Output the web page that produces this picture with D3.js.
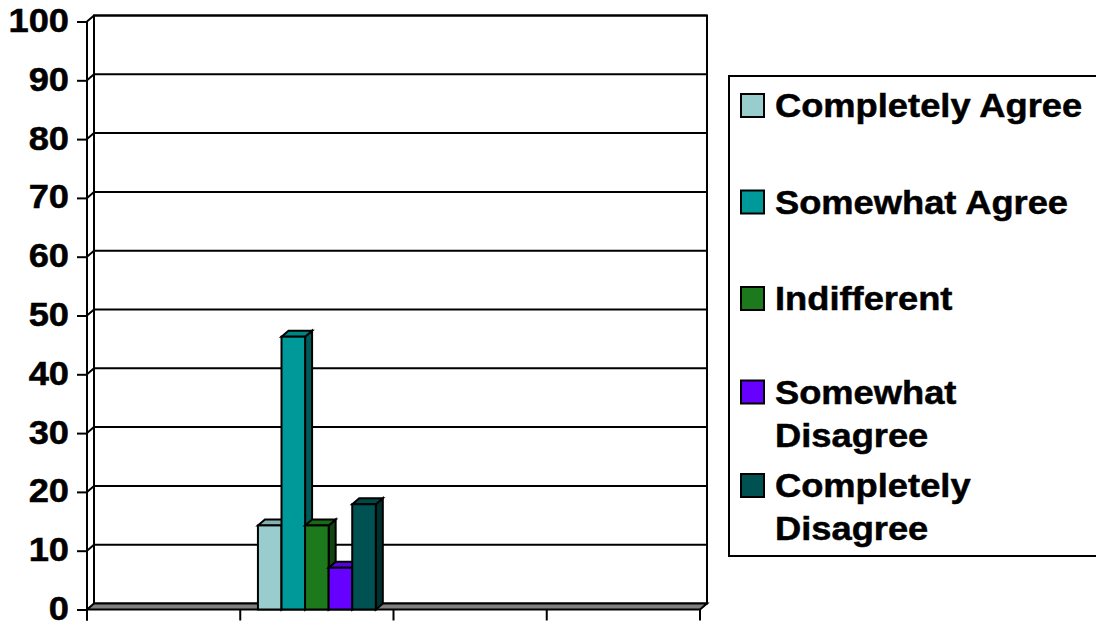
<!DOCTYPE html>
<html>
<head>
<meta charset="utf-8">
<script src="https://cdn.jsdelivr.net/npm/d3@7"></script>
<style>
  html, body { margin: 0; padding: 0; background: #fff; }
  svg { display: block; }
  text { font-family: "Liberation Sans", Arial, sans-serif; font-weight: bold; fill: #000; stroke: #000; stroke-width: 0.5px; }
</style>
</head>
<body>
<svg id="chart" width="1096" height="624"></svg>
<script>
// Survey responses (percent of respondents), one series per answer
const categories = ["", "", "", ""];
const seriesNames = ["Completely Agree", "Somewhat Agree", "Indifferent", "Somewhat Disagree", "Completely Disagree"];
const completelyAgree    = [null, 14.3, null, null];
const somewhatAgree      = [null, 46.4, null, null];
const indifferent        = [null, 14.3, null, null];
const somewhatDisagree   = [null, 7.1,  null, null];
const completelyDisagree = [null, 17.9, null, null];
const yTicks = [0, 10, 20, 30, 40, 50, 60, 70, 80, 90, 100];
const seriesColors = ["#99cccc", "#009999", "#1c7a1c", "#6600ff", "#005252"];
const legendLines = [["Completely Agree"], ["Somewhat Agree"], ["Indifferent"], ["Somewhat", "Disagree"], ["Completely", "Disagree"]];

const seriesValues = [completelyAgree, somewhatAgree, indifferent, somewhatDisagree, completelyDisagree];

const svg = d3.select("#chart");
const FONT = 33, STRETCH = 1.1;

// 3D depth offset of the floor / back wall
const DX = 7, DY = 6;
const plot = { left: 87, right: 700, top: 21.5, bottom: 609.5 };

const y = d3.scaleLinear().domain([0, 100]).range([plot.bottom, plot.top]);
const x0 = d3.scaleBand().domain(d3.range(categories.length)).range([plot.left, plot.right]);
const groupW = x0.bandwidth() / 1.3;           // 30% gap width
const x1 = d3.scaleBand().domain(d3.range(seriesNames.length)).range([0, groupW]);

const g = svg.append("g");

// back wall
g.append("rect")
  .attr("x", plot.left + DX).attr("y", plot.top - DY)
  .attr("width", plot.right - plot.left).attr("height", plot.bottom - plot.top)
  .attr("fill", "#fff").attr("stroke", "#000").attr("stroke-width", 2);

// gridlines: diagonal on side wall + horizontal along back wall
yTicks.forEach(t => {
  if (t === 0) return;
  const yf = y(t), yb = y(t) - DY;
  g.append("path")
    .attr("d", `M${plot.left},${yf}L${plot.left + DX},${yb}L${plot.right + DX},${yb}`)
    .attr("fill", "none").attr("stroke", "#000").attr("stroke-width", 2);
});

// back wall left edge
g.append("line")
  .attr("x1", plot.left + DX).attr("x2", plot.left + DX)
  .attr("y1", plot.top - DY).attr("y2", plot.bottom - DY)
  .attr("stroke", "#000").attr("stroke-width", 2);

// floor
g.append("path")
  .attr("d", `M${plot.left},${plot.bottom}L${plot.right},${plot.bottom}L${plot.right + DX},${plot.bottom - DY}L${plot.left + DX},${plot.bottom - DY}Z`)
  .attr("fill", "#808080").attr("stroke", "#000").attr("stroke-width", 2);

// front value axis
const yAxis = d3.axisLeft(y).tickValues(yTicks).tickSize(10).tickPadding(6).tickFormat(d3.format("d"));
const ya = g.append("g").attr("transform", `translate(${plot.left},0)`).call(yAxis);
ya.select(".domain").remove();
ya.selectAll(".tick line").attr("stroke", "#000").attr("stroke-width", 2);
ya.selectAll(".tick text").each(function () {
  const t = d3.select(this);
  const xx = +t.attr("x");
  t.attr("x", 0).attr("dy", null)
   .attr("transform", `translate(${xx - 2},${0.3 * FONT}) scale(${STRETCH},1)`)
   .style("font-size", FONT + "px").style("font-family", null);
});
g.append("line")
  .attr("x1", plot.left).attr("x2", plot.left)
  .attr("y1", plot.top).attr("y2", plot.bottom + 11)
  .attr("stroke", "#000").attr("stroke-width", 2);

// category axis ticks (labels are blank)
const catEdges = d3.range(categories.length + 1).map(i => plot.left + i * x0.bandwidth());
g.selectAll(".cat-tick").data(catEdges).join("line")
  .attr("x1", d => d).attr("x2", d => d)
  .attr("y1", plot.bottom).attr("y2", plot.bottom + 11)
  .attr("stroke", "#000").attr("stroke-width", 2);

// 3D columns
const bars = [];
categories.forEach((c, ci) => {
  seriesValues.forEach((vals, si) => {
    if (vals[ci] == null) return;
    bars.push({ ci, si, v: vals[ci] });
  });
});

const barG = g.append("g");
bars.forEach(b => {
  const col = d3.color(seriesColors[b.si]);
  const xl = x0(b.ci) + (x0.bandwidth() - groupW) / 2 + x1(b.si);
  const w = x1.bandwidth();
  const yt = y(b.v), yb = y(0);
  const bg = barG.append("g").attr("stroke", "#000").attr("stroke-width", 2).attr("stroke-linejoin", "miter");
  // side face
  bg.append("path")
    .attr("d", `M${xl + w},${yt}L${xl + w + DX},${yt - DY}L${xl + w + DX},${yb - DY}L${xl + w},${yb}Z`)
    .attr("fill", col.darker(1.5));
  // top face
  bg.append("path")
    .attr("d", `M${xl},${yt}L${xl + DX},${yt - DY}L${xl + w + DX},${yt - DY}L${xl + w},${yt}Z`)
    .attr("fill", col.darker(0.4));
  // front face
  bg.append("rect")
    .attr("x", xl).attr("y", yt).attr("width", w).attr("height", yb - yt)
    .attr("fill", col);
});

// legend
const legend = svg.append("g");
legend.append("rect")
  .attr("x", 729).attr("y", 76).attr("width", 400).attr("height", 480)
  .attr("fill", "#fff").attr("stroke", "#000").attr("stroke-width", 2);

const legendBase = [117, 213.5, 310, 403.5, 497];
const lineGap = 43;
seriesNames.forEach((name, i) => {
  const base = legendBase[i];
  legend.append("rect")
    .attr("x", 741).attr("y", base - 23).attr("width", 23).attr("height", 23)
    .attr("fill", seriesColors[i]).attr("stroke", "#000").attr("stroke-width", 2);
  legendLines[i].forEach((line, li) => {
    legend.append("text")
      .attr("transform", `translate(775,${base + li * lineGap}) scale(${STRETCH},1)`)
      .style("font-size", FONT + "px")
      .text(line);
  });
});
</script>
</body>
</html>
